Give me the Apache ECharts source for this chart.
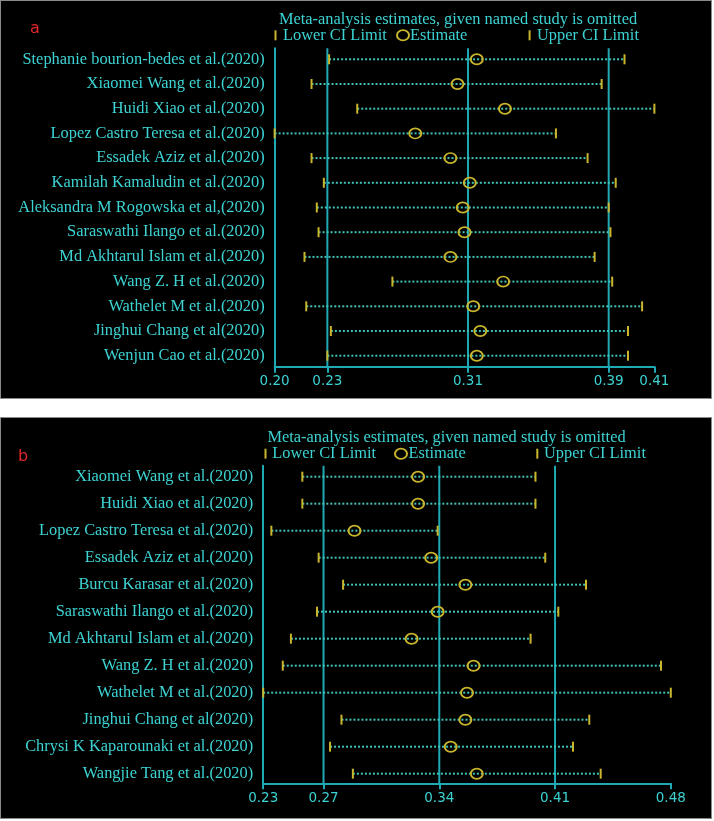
<!DOCTYPE html>
<html><head><meta charset="utf-8">
<script src="https://cdn.jsdelivr.net/npm/echarts@6/dist/echarts.min.js"></script>
<style>
html,body{margin:0;padding:0;background:#fff;width:714px;height:821px;overflow:hidden}
.panel{position:absolute;left:0;width:710px;background:#000;border:1px solid #8a8a8a}
#pa{top:0;height:397px}
#pb{top:417px;height:400px}
</style></head><body>
<div id="pa" class="panel"></div>
<div id="pb" class="panel"></div>
<script>
// ---------- Panel a data ----------
const studiesA = [
  "Stephanie bourion-bedes et al.(2020)",
  "Xiaomei Wang et al.(2020)",
  "Huidi Xiao et al.(2020)",
  "Lopez Castro Teresa et al.(2020)",
  "Essadek Aziz et al.(2020)",
  "Kamilah Kamaludin et al.(2020)",
  "Aleksandra M Rogowska et al,(2020)",
  "Saraswathi Ilango et al.(2020)",
  "Md Akhtarul Islam et al.(2020)",
  "Wang Z. H et al.(2020)",
  "Wathelet M et al.(2020)",
  "Jinghui Chang et al(2020)",
  "Wenjun Cao et al.(2020)"
];
const lowerA = [0.228, 0.218, 0.244, 0.197, 0.218, 0.225, 0.221, 0.222, 0.214, 0.264, 0.215, 0.229, 0.227];
const estA   = [0.312, 0.301, 0.328, 0.277, 0.297, 0.308, 0.304, 0.305, 0.297, 0.327, 0.310, 0.314, 0.312];
const upperA = [0.396, 0.383, 0.413, 0.357, 0.375, 0.391, 0.387, 0.388, 0.379, 0.389, 0.406, 0.398, 0.398];
const refA = [0.227, 0.307, 0.387];           // overall lower CI, estimate, upper CI
const tickValsA = [0.197, 0.227, 0.307, 0.387, 0.413];
const tickLabelsA = ["0.20", "0.23", "0.31", "0.39", "0.41"];

// ---------- Panel b data ----------
const studiesB = [
  "Xiaomei Wang et al.(2020)",
  "Huidi Xiao et al.(2020)",
  "Lopez Castro Teresa et al.(2020)",
  "Essadek Aziz et al.(2020)",
  "Burcu Karasar et al.(2020)",
  "Saraswathi Ilango et al.(2020)",
  "Md Akhtarul Islam et al.(2020)",
  "Wang Z. H et al.(2020)",
  "Wathelet M et al.(2020)",
  "Jinghui Chang et al(2020)",
  "Chrysi K Kaparounaki et al.(2020)",
  "Wangjie Tang et al.(2020)"
];
const lowerB = [0.254, 0.254, 0.235, 0.264, 0.279, 0.263, 0.247, 0.242, 0.230, 0.278, 0.271, 0.285];
const estB   = [0.325, 0.325, 0.286, 0.333, 0.354, 0.337, 0.321, 0.359, 0.355, 0.354, 0.345, 0.361];
const upperB = [0.397, 0.397, 0.337, 0.403, 0.428, 0.411, 0.394, 0.474, 0.480, 0.430, 0.420, 0.437];
const refB = [0.267, 0.338, 0.409];
const tickValsB = [0.230, 0.267, 0.338, 0.409, 0.480];
const tickLabelsB = ["0.23", "0.27", "0.34", "0.41", "0.48"];

const titleText = "Meta-analysis estimates, given named study is omitted";
const legendLabels = ["Lower CI Limit", "Estimate", "Upper CI Limit"];

// ---------- styles ----------
const CYAN = '#3dd3d3';
const TEAL = '#1fa9b4';
const YEL = '#c9b62c';
const DOT = '#3fc4b6';
const SERIF = '"Liberation Serif","Times New Roman",serif';
const SANS = '"DejaVu Sans",sans-serif';
const FS = 16.4;

function renderRow(params, api) {
  const i = api.value(3);
  const pL = api.coord([api.value(0), i]);
  const pE = api.coord([api.value(1), i]);
  const pU = api.coord([api.value(2), i]);
  return {
    type: 'group',
    children: [
      {type: 'line', shape: {x1: pL[0], y1: pL[1], x2: pU[0], y2: pU[1]},
        style: {stroke: DOT, lineWidth: 2, lineDash: [2, 2]}},
      {type: 'line', shape: {x1: pL[0], y1: pL[1] - 5, x2: pL[0], y2: pL[1] + 5},
        style: {stroke: YEL, lineWidth: 2}},
      {type: 'line', shape: {x1: pU[0], y1: pU[1] - 5, x2: pU[0], y2: pU[1] + 5},
        style: {stroke: YEL, lineWidth: 2}},
      {type: 'circle', x: pE[0], y: pE[1], scaleY: 0.85, shape: {cx: 0, cy: 0, r: 6},
        style: {stroke: YEL, fill: 'none', lineWidth: 2}}
    ]
  };
}

function makeRefRender(yTop, yBot) {
  return function (params, api) {
    const v = api.value(0);
    const p1 = api.coord([v, yTop]);
    const p2 = api.coord([v, yBot]);
    return {type: 'line', shape: {x1: p1[0], y1: p1[1], x2: p2[0], y2: p2[1]},
      style: {stroke: TEAL, lineWidth: 2}};
  };
}

function legendGraphics(L) {
  const t = (x, y, text, align) => ({
    type: 'text', x: x, y: y,
    style: {text: text, fill: CYAN, font: FS + 'px ' + SERIF, align: align, verticalAlign: 'middle'}
  });
  const bar = (x, y) => ({type: 'line', shape: {x1: x, y1: y - 5, x2: x, y2: y + 5},
    style: {stroke: YEL, lineWidth: 2}});
  return [
    {type: 'text', x: L.letterX, y: L.letterY,
      style: {text: L.letter, fill: '#e0262a', font: '16px ' + SANS, align: 'center', verticalAlign: 'middle'}},
    t(L.titleX, L.titleY, titleText, 'center'),
    bar(L.bar1X, L.rowY),
    t(L.txt1X, L.rowY, legendLabels[0], 'left'),
    {type: 'circle', x: L.circX, y: L.rowY, scaleY: 0.85, shape: {cx: 0, cy: 0, r: 6},
      style: {stroke: YEL, fill: 'none', lineWidth: 2}},
    t(L.txt2X, L.rowY, legendLabels[1], 'left'),
    bar(L.bar2X, L.rowY),
    t(L.txt3X, L.rowY, legendLabels[2], 'left')
  ];
}

function buildOption(c) {
  const n = c.names.length;
  const data = c.lower.map((l, i) => [l, c.est[i], c.upper[i], i]);
  const yMin = -c.padTop, yMax = n - 1 + c.padBot;
  return {
    animation: false,
    backgroundColor: '#000',
    grid: c.grid,
    graphic: legendGraphics(c.legend),
    xAxis: {
      type: 'value', min: c.xMin, max: c.xMax,
      axisLine: {show: true, onZero: false, lineStyle: {color: TEAL, width: 2}},
      axisTick: {show: true, customValues: c.ticks, length: 6, lineStyle: {color: TEAL, width: 2}},
      axisLabel: {
        customValues: c.ticks,
        formatter: v => {
          let best = 0;
          c.ticks.forEach((t, k) => { if (Math.abs(t - v) < Math.abs(c.ticks[best] - v)) best = k; });
          return c.tickLabels[best];
        },
        color: CYAN, fontFamily: SANS, fontSize: 13.5, margin: 8
      },
      splitLine: {show: false}
    },
    yAxis: {
      type: 'value', inverse: true, min: yMin, max: yMax,
      axisLine: {show: true, onZero: false, lineStyle: {color: TEAL, width: 2}},
      axisTick: {show: false},
      splitLine: {show: false},
      axisLabel: {
        customValues: c.names.map((_, i) => i),
        formatter: v => c.names[Math.round(v)] || '',
        color: CYAN, fontFamily: SERIF, fontSize: FS, margin: 10
      }
    },
    series: [
      {
        type: 'custom',
        renderItem: makeRefRender(yMin, yMax),
        encode: {x: 0},
        data: c.refs.map(v => [v]),
        clip: false,
        z: 2
      },
      {
        type: 'custom',
        renderItem: renderRow,
        encode: {x: [0, 1, 2], y: 3},
        data: data,
        z: 3
      }
    ]
  };
}

const chartA = echarts.init(document.getElementById('pa'));
chartA.setOption(buildOption({
  names: studiesA, lower: lowerA, est: estA, upper: upperA, refs: refA,
  ticks: tickValsA, tickLabels: tickLabelsA, xMin: 0.197, xMax: 0.413,
  padTop: 0.445, padBot: 0.445,
  grid: {left: 273.6, top: 47.3, width: 379.8, height: 318.4},
  legend: {letter: 'a', letterX: 34, letterY: 28, titleX: 457, titleY: 19, rowY: 34.3,
    bar1X: 274.5, txt1X: 282, circX: 402, txt2X: 409, bar2X: 528.6, txt3X: 536}
}));

const chartB = echarts.init(document.getElementById('pb'));
chartB.setOption(buildOption({
  names: studiesB, lower: lowerB, est: estB, upper: upperB, refs: refB,
  ticks: tickValsB, tickLabels: tickLabelsB, xMin: 0.23, xMax: 0.48,
  padTop: 0.407, padBot: 0.356,
  grid: {left: 262.2, top: 47.7, width: 407.6, height: 317.6},
  legend: {letter: 'b', letterX: 22, letterY: 38.7, titleX: 445.5, titleY: 19.3, rowY: 35.7,
    bar1X: 264.5, txt1X: 271.3, circX: 400, txt2X: 407.5, bar2X: 536.3, txt3X: 543}
}));
</script>
</body></html>
